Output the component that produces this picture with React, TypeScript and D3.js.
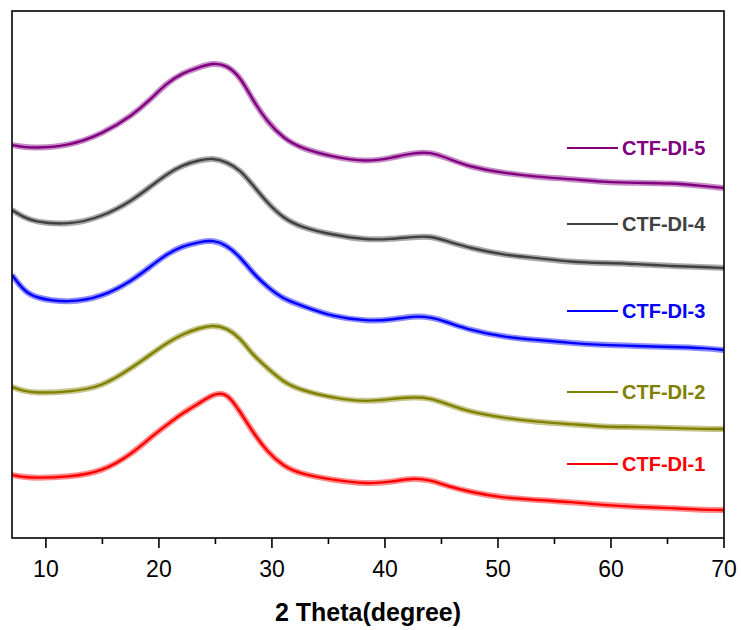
import React from 'react';
import * as d3 from 'd3';

// 2-theta positions (degree) where the patterns were read
const theta = [7, 8, 9, 12, 15, 17.7, 19.2, 20.7, 22.1, 23.6, 24.8, 26, 27.2, 28.3, 29.6, 31, 32.5, 35.4, 38.4, 40.5, 42.5, 44, 45.5, 47.5, 50.5, 53.5, 56.4, 59.3, 62.3, 65.2, 68.2, 70];

// intensity (a.u., stacked with offsets as in the figure)
const di5 = [393, 391, 390, 392, 404, 423, 438, 455, 465, 471, 475, 473, 461, 438, 416, 400, 390, 381, 376, 380, 385, 386, 380, 371, 365, 361, 359, 356, 355, 355, 352, 350];
const di4 = [328, 321, 316, 313, 321, 338, 351, 364, 373, 378, 380, 376, 368, 353, 335, 320, 311, 303, 298, 299, 301, 302, 297, 290, 283, 280, 276, 275, 274, 272, 271, 270];
const di3 = [263, 248, 240, 235, 241, 258, 271, 284, 292, 296, 298, 293, 281, 265, 251, 239, 233, 221, 217, 218, 222, 221, 216, 208, 201, 198, 195, 193, 192, 191, 190, 188];
const di2 = [151, 147, 145, 146, 151, 171, 183, 195, 204, 210, 213, 210, 200, 183, 170, 156, 148, 140, 136, 139, 141, 140, 134, 126, 120, 116, 114, 111, 111, 110, 109, 109];
const di1 = [63, 61, 60, 61, 66, 85, 100, 113, 125, 135, 144, 146, 126, 106, 86, 72, 64, 58, 54, 56, 60, 58, 52, 46, 40, 38, 36, 33, 31, 30, 28, 28];

const names = ['CTF-DI-5', 'CTF-DI-4', 'CTF-DI-3', 'CTF-DI-2', 'CTF-DI-1'];
const colors = ['#800080', '#404040', '#0000ff', '#808000', '#ff0000'];
const seriesValues = [di5, di4, di3, di2, di1];
// legend entry heights, in the same intensity units
const legendLevels = [390, 314, 227, 146, 74];

const majorTicks = [10, 20, 30, 40, 50, 60, 70];
const minorTicks = [15, 25, 35, 45, 55, 65];

const W = 741;
const H = 630;
const left = 12;
const right = 724;
const top = 11;
const bottom = 538;
const font = 'Arial, "Liberation Sans", sans-serif';

const App = () => {
	const x = d3.scaleLinear().domain([7, 70]).range([left, right]);
	const y = d3.scaleLinear().domain([0, 527]).range([bottom, top]);

	const line = d3
		.line<number>()
		.x((d, i) => x(theta[i]))
		.y((d) => y(d))
		.curve(d3.curveBasis);

	return (
		<svg width={W} height={H} style={{ position: 'absolute', left: 0, top: 0, background: '#fff' }}>
			<defs>
				<clipPath id="plot">
					<rect x={left} y={top} width={right - left} height={bottom - top} />
				</clipPath>
			</defs>
			<g clipPath="url(#plot)">
				{seriesValues.map((vals, k) => (
					<g key={names[k]}>
						<path d={line(vals) || ''} fill="none" stroke={colors[k]} strokeWidth={6} strokeOpacity={0.45} />
						<path d={line(vals) || ''} fill="none" stroke={colors[k]} strokeWidth={2.4} />
					</g>
				))}
			</g>

			{/* legend */}
			{names.map((n, k) => (
				<g key={n} transform={`translate(567, ${y(legendLevels[k])})`}>
					<line x1={0} x2={51} y1={0} y2={0} stroke={colors[k]} strokeWidth={1.8} />
					<text x={55} y={0} dy="0.36em" fill={colors[k]} fontFamily={font} fontWeight="bold" fontSize={20}>
						{n}
					</text>
				</g>
			))}

			{/* frame */}
			<rect x={left} y={top} width={right - left} height={bottom - top} fill="none" stroke="#000" strokeWidth={1.6} />

			{/* bottom axis */}
			{majorTicks.map((t) => (
				<g key={t} transform={`translate(${x(t)}, ${bottom})`}>
					<line y1={0} y2={10} stroke="#000" strokeWidth={1.6} />
					<text y={39} textAnchor="middle" fontFamily={font} fontSize={23} fill="#000">
						{t}
					</text>
				</g>
			))}
			{minorTicks.map((t) => (
				<line key={t} x1={x(t)} x2={x(t)} y1={bottom} y2={bottom + 6} stroke="#000" strokeWidth={1.6} />
			))}

			<text x={368} y={621} textAnchor="middle" fontFamily={font} fontWeight="bold" fontSize={25} fill="#000">
				2 Theta(degree)
			</text>
		</svg>
	);
};

export default App;
